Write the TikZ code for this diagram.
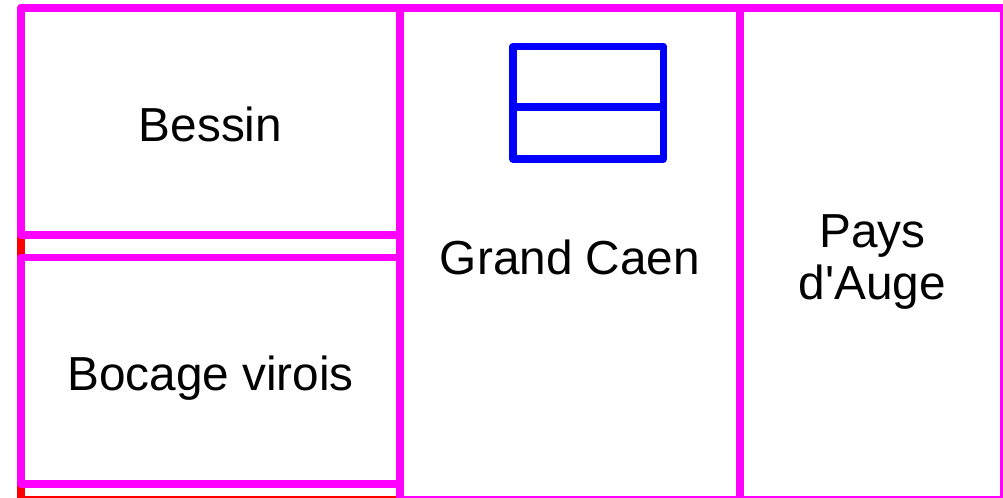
\documentclass[tikz,border=0pt]{standalone}
\usepackage{fontspec}
\setmainfont{Liberation Sans}[Ligatures=TeXOff]
\usetikzlibrary{positioning}
\definecolor{regionpink}{RGB}{255,0,255}
\definecolor{groupred}{RGB}{255,0,0}
\definecolor{iconblue}{RGB}{0,0,255}

\begin{document}
\begin{tikzpicture}[x=0.75pt,y=-0.75pt,line width=5.6pt,line join=round,
    region/.style={draw=regionpink},
    lbl/.style={font=\fontsize{35.8}{39}\selectfont,inner sep=0pt},
    flat/.style={lbl,text depth=0pt}]

  \clip (0,0) rectangle (1003,498);

  % left group, mostly hidden
  \draw[groupred] (21,8) rectangle (400,500);

  \draw[region] (21,8) rectangle (400,235);
  \draw[region] (21,257.5) rectangle (400,484);
  \draw[region] (400,8) rectangle (740,500);
  \draw[region] (740,8) rectangle (1004,500);

  % icon
  \draw[iconblue] (513,46.5) rectangle (663.5,159);
  \draw[iconblue] (513,107) -- (663.5,107);

  \node[flat] (bessin) at (210.5,124.5) {Bessin};
  \node[flat] (bocage) at (210.5,373.5) {Bocage virois};
  \node[flat] (caen)   at (570,257.5)   {Grand Caen};
  \node[lbl,align=center] (auge) at (872.5,262) {Pays\\d'Auge};
\end{tikzpicture}
\end{document}
